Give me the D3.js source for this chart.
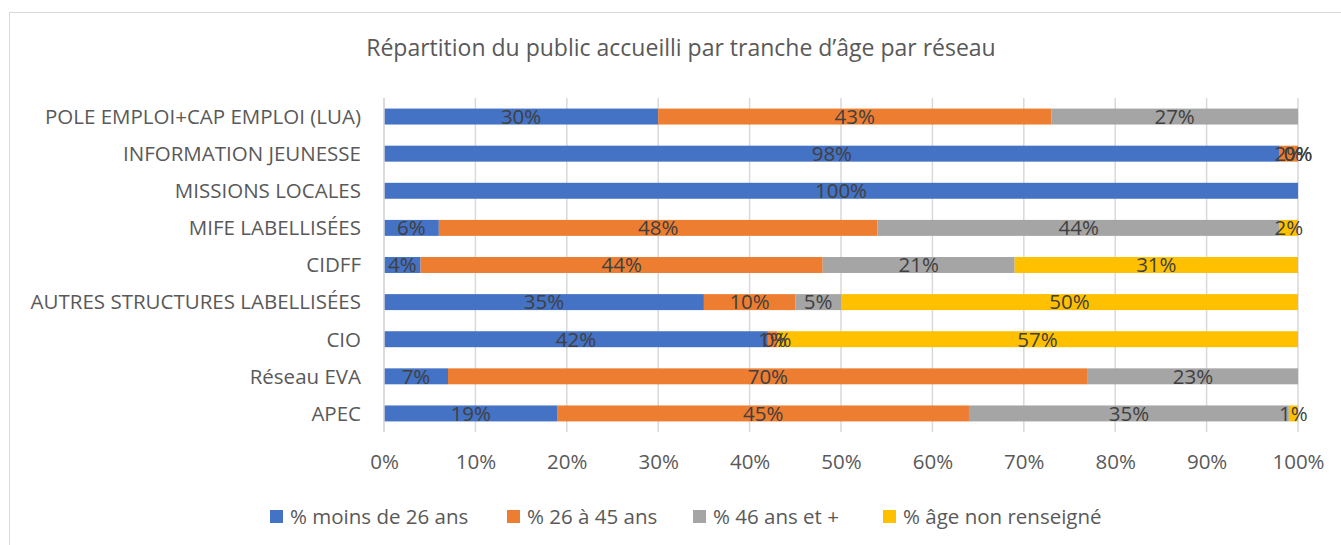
<!DOCTYPE html>
<html>
<head>
<meta charset="utf-8">
<script src="https://cdn.jsdelivr.net/npm/d3@7"></script>
<style>
  body { margin: 0; background: #fff; }
  svg text { font-family: "Open Sans", "Noto Sans", sans-serif; }
</style>
</head>
<body>
<div id="chart"></div>
<script>
// reseaux, du haut vers le bas
var reseaux = ["POLE EMPLOI+CAP EMPLOI (LUA)", "INFORMATION JEUNESSE", "MISSIONS LOCALES",
  "MIFE LABELLISÉES", "CIDFF", "AUTRES STRUCTURES LABELLISÉES", "CIO", "Réseau EVA", "APEC"];
var series = ["% moins de 26 ans", "% 26 à 45 ans", "% 46 ans et +", "% âge non renseigné"];
var couleurs = ["#4472C4", "#ED7D31", "#A5A5A5", "#FFC000"];

// valeurs en %, null = case vide
var moins26   = [30, 98, 100, 6, 4, 35, 42, 7, 19];
var de26a45   = [43, 2, null, 48, 44, 10, 1, 70, 45];
var plus46    = [27, 0, null, 44, 21, 5, 0, 23, 35];
var nonRens   = [null, 0, null, 2, 31, 50, 57, null, 1];
var ticks = [0, 10, 20, 30, 40, 50, 60, 70, 80, 90, 100];

var width = 1341, height = 545;
var margin = {top: 98, right: 43, bottom: 113, left: 384};
var fs = 20.5;

var svg = d3.select("#chart").append("svg")
  .attr("width", width).attr("height", height);

// cadre
svg.append("rect")
  .attr("x", 9.5).attr("y", 12.5)
  .attr("width", 1340).attr("height", 545)
  .attr("fill", "none").attr("stroke", "#d9d9d9");

svg.append("text")
  .attr("x", 681).attr("y", 56)
  .attr("text-anchor", "middle")
  .attr("font-size", 23)
  .attr("fill", "#595959")
  .text("Répartition du public accueilli par tranche d’âge par réseau");

var data = reseaux.map(function(r, i) {
  return {reseau: r, s0: moins26[i], s1: de26a45[i], s2: plus46[i], s3: nonRens[i]};
});
var keys = ["s0", "s1", "s2", "s3"];

var x = d3.scaleLinear().domain([0, 100])
  .range([margin.left, width - margin.right]);
var y = d3.scaleBand().domain(reseaux)
  .range([margin.top, height - margin.bottom])
  .paddingInner(0.57).paddingOuter(0.285);

// grille
svg.append("g").selectAll("line").data(ticks).enter().append("line")
  .attr("x1", function(d) { return x(d); })
  .attr("x2", function(d) { return x(d); })
  .attr("y1", margin.top).attr("y2", height - margin.bottom)
  .attr("stroke", "#d9d9d9").attr("stroke-width", 1.5);

var stack = d3.stack().keys(keys).value(function(d, k) { return d[k] || 0; });
var layers = stack(data);

var g = svg.append("g").selectAll("g").data(layers).enter().append("g")
  .attr("fill", function(d, i) { return couleurs[i]; });

g.selectAll("rect").data(function(d) { return d; }).enter().append("rect")
  .attr("x", function(d) { return x(d[0]); })
  .attr("width", function(d) { return x(d[1]) - x(d[0]); })
  .attr("y", function(d) { return y(d.data.reseau); })
  .attr("height", y.bandwidth());

// etiquettes de donnees
layers.forEach(function(layer) {
  svg.append("g").selectAll("text")
    .data(layer.filter(function(d) { return d.data[layer.key] != null; }))
    .enter().append("text")
    .attr("x", function(d) { return x((d[0] + d[1]) / 2); })
    .attr("y", function(d) { return y(d.data.reseau) + y.bandwidth() / 2; })
    .attr("dy", "0.36em")
    .attr("text-anchor", "middle")
    .attr("font-size", fs)
    .attr("fill", "#404040")
    .text(function(d) { return d.data[layer.key] + "%"; });
});

// axe y
svg.append("line")
  .attr("x1", x(0)).attr("x2", x(0))
  .attr("y1", margin.top).attr("y2", height - margin.bottom)
  .attr("stroke", "#d9d9d9").attr("stroke-width", 1.5);

svg.append("g").selectAll("text").data(reseaux).enter().append("text")
  .attr("x", 361)
  .attr("y", function(d) { return y(d) + y.bandwidth() / 2; })
  .attr("dy", "0.36em")
  .attr("text-anchor", "end")
  .attr("font-size", fs)
  .attr("fill", "#595959")
  .text(function(d) { return d; });

// axe x
var xAxis = svg.append("g")
  .attr("transform", "translate(0," + (height - margin.bottom) + ")")
  .call(d3.axisBottom(x).tickValues(ticks).tickSize(0).tickPadding(22)
    .tickFormat(function(d) { return d + "%"; }));
xAxis.select(".domain").remove();
xAxis.selectAll("text").attr("font-size", fs).attr("fill", "#595959")
  .attr("font-family", "Open Sans, Noto Sans, sans-serif");

// legende
var legX = [270, 507, 693, 883];
var leg = svg.append("g").selectAll("g").data(series).enter().append("g")
  .attr("transform", function(d, i) { return "translate(" + legX[i] + ",510)"; });
leg.append("rect").attr("width", 13).attr("height", 13)
  .attr("fill", function(d, i) { return couleurs[i]; });
leg.append("text").attr("x", 20).attr("y", 6.5).attr("dy", "0.36em")
  .attr("font-size", fs).attr("fill", "#595959")
  .text(function(d) { return d; });
</script>
</body>
</html>
